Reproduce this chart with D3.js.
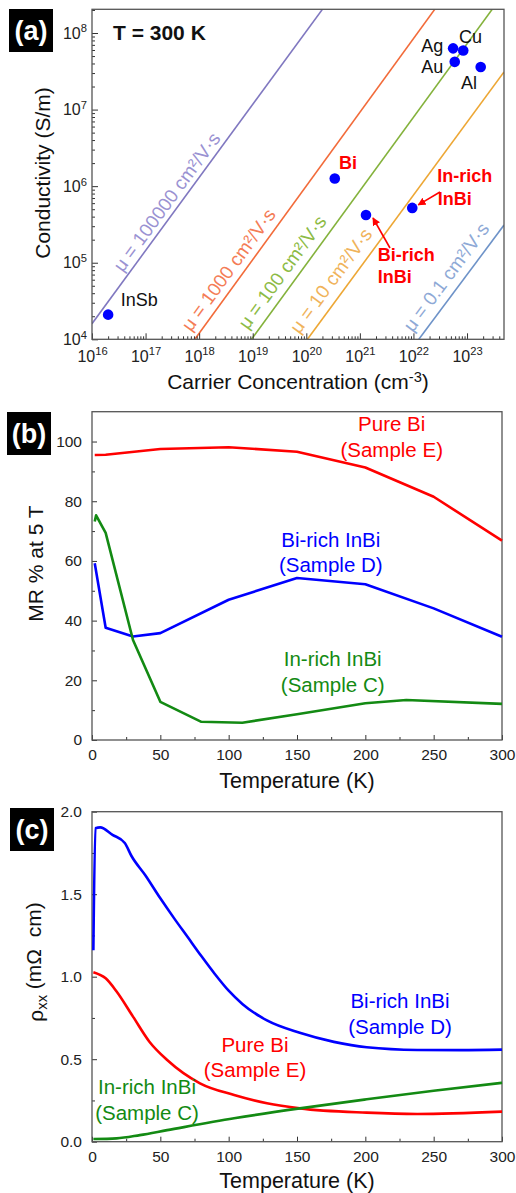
<!DOCTYPE html>
<html>
<head>
<meta charset="utf-8">
<script src="https://cdn.jsdelivr.net/npm/d3@7"></script>
<style>
  body { margin: 0; background: #fff; }
  svg { font-family: "Liberation Sans", Arial, sans-serif; }
</style>
</head>
<body>
<svg id="fig" width="516" height="1193"></svg>
<script>
// ---- panel (a): conductivity vs carrier concentration ----
const materials = ["InSb", "Bi", "Bi-rich InBi", "In-rich InBi", "Ag", "Cu", "Au", "Al"];
const carrierConc = [2e16, 3.4e20, 1.3e21, 9.5e21, 5.5e22, 8.5e22, 5.9e22, 1.8e23];
const conductivity = [2.1e4, 1.26e6, 4.2e5, 5.2e5, 6.3e7, 5.9e7, 4.2e7, 3.6e7];

// constant-mobility lines, end points
const mobilityValues = ["100000", "1000", "100", "10", "0.1"];
const mobilityN = [[1e16, 2e20], [8.3e17, 2.5e22], [9.5e18, 2.95e23], [1.05e20, 4.9e23], [1.26e22, 4.9e23]];
const mobilitySigma = [[1.6e4, 2.04e8], [1e4, 2.04e8], [1e4, 2.04e8], [1e4, 3.1e7], [1e4, 3.1e5]];
const mobilityLabelAt = [[3.74e16, 7.35e4], [7.05e17, 1.23e4], [8.05e18, 1.3e4], [7.4e19, 1.15e4], [9.66e21, 1.21e4]];

// ---- panel (b): MR % at 5 T vs temperature ----
const tempMR_E = [2, 10, 50, 100, 150, 200, 250, 300];
const mr_E = [95.5, 95.6, 97.5, 98.1, 96.6, 91.3, 81.5, 66.8];
const tempMR_D = [2, 10, 30, 50, 100, 150, 200, 250, 300];
const mr_D = [59.2, 37.6, 34.7, 35.8, 47, 54.3, 52.2, 44.1, 34.6];
const tempMR_C = [2, 3, 10, 30, 50, 80, 110, 150, 200, 230, 300];
const mr_C = [73.2, 75.3, 69.4, 33.5, 12.8, 6.1, 5.8, 8.6, 12.3, 13.4, 12.1];

// ---- panel (c): rho_xx vs temperature ----
const tempRho_D = [1, 2.5, 6, 15, 24, 29, 39, 50, 60, 70, 80, 90, 100, 110, 128, 152, 177, 201, 238, 270, 300];
const rho_D = [1.16, 1.90, 1.905, 1.86, 1.81, 1.73, 1.615, 1.475, 1.355, 1.24, 1.125, 1.015, 0.915, 0.835, 0.735, 0.66, 0.605, 0.572, 0.556, 0.555, 0.558];
const tempRho_E = [1, 10, 18, 30, 42, 55, 79, 104, 128, 152, 201, 238, 300];
const rho_E = [1.027, 0.99, 0.91, 0.758, 0.606, 0.495, 0.354, 0.283, 0.233, 0.202, 0.176, 0.168, 0.182];
const tempRho_C = [1, 18, 35, 55, 104, 152, 201, 250, 300];
const rho_C = [0.016, 0.02, 0.04, 0.07, 0.142, 0.202, 0.257, 0.309, 0.357];

const RED = "#ff0000", BLUE = "#0000ff", GREEN = "#138a13";
const mobilityLineColors = ["#8078c0", "#f26b3a", "#84b23c", "#eda735", "#6e93c8"];
const mobilityTextColors = ["#9a92d2", "#f47c56", "#8dbb45", "#f0b35a", "#8ea9d6"];

const svg = d3.select("#fig");

svg.append("defs").append("marker")
  .attr("id", "arrow")
  .attr("viewBox", "0 0 10 10")
  .attr("refX", 9).attr("refY", 5)
  .attr("markerWidth", 5).attr("markerHeight", 5)
  .attr("markerUnits", "strokeWidth")
  .attr("orient", "auto")
  .append("path").attr("d", "M0,0L10,5L0,10z").attr("fill", RED);

function panelTag(x, y, label) {
  svg.append("rect").attr("x", x).attr("y", y).attr("width", 44).attr("height", 43).attr("fill", "#000");
  svg.append("text").attr("x", x + 22).attr("y", y + 31)
    .attr("text-anchor", "middle").attr("fill", "#fff")
    .attr("font-weight", "bold").attr("font-size", 27).text(label);
}

function styleAxis(g, size) {
  g.attr("font-family", null).attr("font-size", size).attr("color", "#333");
  g.select(".domain").remove();
  g.selectAll("text").attr("fill", "#222");
}

function frame(x, y) {
  svg.append("rect")
    .attr("x", x.range()[0]).attr("y", y.range()[1])
    .attr("width", x.range()[1] - x.range()[0])
    .attr("height", y.range()[0] - y.range()[1])
    .attr("fill", "none").attr("stroke", "#555").attr("stroke-width", 1.3);
}

function powLabels(sel) {
  sel.each(function(d) {
    const t = d3.select(this);
    const e = Math.round(Math.log10(d));
    t.text(null);
    t.append("tspan").text("10");
    t.append("tspan").attr("dy", "-0.55em").attr("font-size", "0.7em").text(e);
  });
}

// ================= panel (a) =================
const xA = d3.scaleLog().domain([1e16, 4.9e23]).range([92, 504]);
const yA = d3.scaleLog().domain([1e4, 2.04e8]).range([339.3, 9.3]);

const xDecades = d3.range(16, 24).map(e => Math.pow(10, e));
const yDecades = d3.range(4, 9).map(e => Math.pow(10, e));
const xMinor = [], yMinor = [];
d3.range(16, 24).forEach(e => d3.range(2, 10).forEach(m => { const v = m * Math.pow(10, e); if (v <= 4.9e23) xMinor.push(v); }));
d3.range(4, 9).forEach(e => d3.range(2, 10).forEach(m => { const v = m * Math.pow(10, e); if (v <= 2.04e8) yMinor.push(v); }));

svg.append("clipPath").attr("id", "clipA").append("rect")
  .attr("x", 92).attr("y", 9.3).attr("width", 412).attr("height", 330);

const lineA = d3.line().x(d => xA(d[0])).y(d => yA(d[1]));
mobilityValues.forEach((mu, i) => {
  const pts = [[mobilityN[i][0], mobilitySigma[i][0]], [mobilityN[i][1], mobilitySigma[i][1]]];
  svg.append("path").attr("d", lineA(pts)).attr("clip-path", "url(#clipA)")
    .attr("fill", "none").attr("stroke", mobilityLineColors[i]).attr("stroke-width", 1.6);
  const ang = Math.atan2(yA(pts[1][1]) - yA(pts[0][1]), xA(pts[1][0]) - xA(pts[0][0])) * 180 / Math.PI;
  const lx = xA(mobilityLabelAt[i][0]), ly = yA(mobilityLabelAt[i][1]);
  svg.append("text")
    .attr("transform", `translate(${lx},${ly}) rotate(${ang})`)
    .attr("fill", mobilityTextColors[i]).attr("font-size", 19)
    .text(`μ = ${mu} cm²/V·s`);
});

svg.append("g").attr("transform", "translate(0,339.3)")
  .call(d3.axisBottom(xA).tickValues(xMinor).tickSize(-3).tickFormat(""))
  .call(g => styleAxis(g, 16));
svg.append("g").attr("transform", "translate(0,339.3)")
  .call(d3.axisBottom(xA).tickValues(xDecades).tickSize(-6).tickPadding(11))
  .call(g => styleAxis(g, 16))
  .call(g => g.selectAll(".tick text").call(powLabels));
svg.append("g").attr("transform", "translate(92,0)")
  .call(d3.axisLeft(yA).tickValues(yMinor).tickSize(-3).tickFormat(""))
  .call(g => styleAxis(g, 16));
svg.append("g").attr("transform", "translate(92,0)")
  .call(d3.axisLeft(yA).tickValues(yDecades).tickSize(-6).tickPadding(5))
  .call(g => styleAxis(g, 16))
  .call(g => g.selectAll(".tick text").call(powLabels));
frame(xA, yA);

svg.selectAll("circle.mat").data(materials).join("circle")
  .attr("class", "mat")
  .attr("cx", (d, i) => xA(carrierConc[i]))
  .attr("cy", (d, i) => yA(conductivity[i]))
  .attr("r", 5.3).attr("fill", BLUE);

svg.append("text").attr("x", 113).attr("y", 39.5)
  .attr("font-weight", "bold").attr("font-size", 21).attr("fill", "#111").text("T = 300 K");

const blackLabels = [
  ["InSb", 120.7, 306, "start"], ["Ag", 443.3, 52, "end"], ["Cu", 459, 43.3, "start"],
  ["Au", 443.3, 73.3, "end"], ["Al", 461, 89.3, "start"]
];
blackLabels.forEach(([t, x, y, a]) => svg.append("text").attr("x", x).attr("y", y)
  .attr("text-anchor", a).attr("font-size", 18).attr("fill", "#111").text(t));

const redLabels = [
  ["Bi", 339, 169], ["In-rich", 437.3, 181.7], ["InBi", 437.7, 205],
  ["Bi-rich", 377.7, 260.7], ["InBi", 377.7, 282.7]
];
redLabels.forEach(([t, x, y]) => svg.append("text").attr("x", x).attr("y", y)
  .attr("font-size", 18).attr("font-weight", "bold").attr("fill", RED).text(t));

// arrows from labels to the InBi points
[[390, 248, xA(carrierConc[2]) + 7, yA(conductivity[2]) + 3],
 [440, 192, xA(carrierConc[3]) + 6, yA(conductivity[3]) - 3]].forEach(([x1, y1, x2, y2]) =>
  svg.append("line").attr("x1", x1).attr("y1", y1).attr("x2", x2).attr("y2", y2)
    .attr("stroke", RED).attr("stroke-width", 1.6).attr("marker-end", "url(#arrow)"));

svg.append("text")
  .attr("transform", "translate(50,173) rotate(-90)")
  .attr("text-anchor", "middle").attr("font-size", 21).attr("fill", "#111")
  .text("Conductivity (S/m)");
const xTitleA = svg.append("text").attr("x", 298).attr("y", 389)
  .attr("text-anchor", "middle").attr("font-size", 21).attr("fill", "#111");
xTitleA.append("tspan").text("Carrier Concentration (cm");
xTitleA.append("tspan").attr("dy", "-0.5em").attr("font-size", "0.7em").text("-3");
xTitleA.append("tspan").attr("dy", "0.35em").text(")");

panelTag(9, 9, "(a)");

// ================= linear panels =================
function linearPanel(x, y, yMajor, yMinorTicks, yFmt) {
  svg.append("g").attr("transform", `translate(0,${y.range()[0]})`)
    .call(d3.axisBottom(x).tickValues(d3.range(25, 300, 50)).tickSize(-3).tickFormat(""))
    .call(g => styleAxis(g, 15.5));
  svg.append("g").attr("transform", `translate(0,${y.range()[0]})`)
    .call(d3.axisBottom(x).tickValues(d3.range(0, 301, 50)).tickSize(-5).tickPadding(9))
    .call(g => styleAxis(g, 15.5));
  svg.append("g").attr("transform", `translate(${x.range()[0]},0)`)
    .call(d3.axisLeft(y).tickValues(yMinorTicks).tickSize(-3).tickFormat(""))
    .call(g => styleAxis(g, 15.5));
  svg.append("g").attr("transform", `translate(${x.range()[0]},0)`)
    .call(d3.axisLeft(y).tickValues(yMajor).tickSize(-5).tickPadding(10).tickFormat(yFmt))
    .call(g => styleAxis(g, 15.5));
  frame(x, y);
}

function curve(x, y, xs, ys, color, c) {
  const gen = d3.line().x(d => x(d[0])).y(d => y(d[1])).curve(c || d3.curveLinear);
  svg.append("path").attr("d", gen(xs.map((v, i) => [v, ys[i]])))
    .attr("fill", "none").attr("stroke", color).attr("stroke-width", 2.6)
    .attr("stroke-linejoin", "round");
}

function label2(x, y1, y2, lines, color) {
  svg.append("text").attr("x", x).attr("y", y1).attr("text-anchor", "middle")
    .attr("font-size", 20.5).attr("fill", color).text(lines[0]);
  svg.append("text").attr("x", x).attr("y", y2).attr("text-anchor", "middle")
    .attr("font-size", 20.5).attr("fill", color).text(lines[1]);
}

// ---- (b) ----
const xB = d3.scaleLinear().domain([0, 300]).range([92, 502]);
const yB = d3.scaleLinear().domain([0, 110]).range([740, 411.7]);
linearPanel(xB, yB, d3.range(0, 101, 20), d3.range(10, 110, 20), d3.format("d"));
curve(xB, yB, tempMR_E, mr_E, RED);
curve(xB, yB, tempMR_D, mr_D, BLUE);
curve(xB, yB, tempMR_C, mr_C, GREEN);
label2(391.7, 431, 457, ["Pure Bi", "(Sample E)"], RED);
label2(330.8, 546.7, 572, ["Bi-rich InBi", "(Sample D)"], BLUE);
label2(332.7, 666, 692, ["In-rich InBi", "(Sample C)"], GREEN);
svg.append("text").attr("transform", "translate(43,563.5) rotate(-90)")
  .attr("text-anchor", "middle").attr("font-size", 21).attr("fill", "#111").text("MR % at 5 T");
svg.append("text").attr("x", 297).attr("y", 788).attr("text-anchor", "middle")
  .attr("font-size", 21.5).attr("fill", "#111").text("Temperature (K)");
panelTag(7, 412, "(b)");

// ---- (c) ----
const xC = d3.scaleLinear().domain([0, 300]).range([92, 502]);
const yC = d3.scaleLinear().domain([0, 2]).range([1141.7, 811.7]);
linearPanel(xC, yC, d3.range(0, 2.01, 0.5), d3.range(0.25, 2, 0.5), d3.format(".1f"));
curve(xC, yC, tempRho_D, rho_D, BLUE, d3.curveMonotoneX);
curve(xC, yC, tempRho_E, rho_E, RED, d3.curveMonotoneX);
curve(xC, yC, tempRho_C, rho_C, GREEN, d3.curveMonotoneX);
label2(400, 1008.3, 1034, ["Bi-rich InBi", "(Sample D)"], BLUE);
label2(255, 1051.7, 1077, ["Pure Bi", "(Sample E)"], RED);
label2(147, 1094, 1120, ["In-rich InBi", "(Sample C)"], GREEN);
const yTitleC = svg.append("text").attr("transform", "translate(43,962) rotate(-90)")
  .attr("text-anchor", "middle").attr("font-size", 21).attr("fill", "#111");
yTitleC.append("tspan").text("ρ");
yTitleC.append("tspan").attr("dy", "0.3em").attr("font-size", "0.7em").text("xx");
yTitleC.append("tspan").attr("dy", "-0.3em").text(" (mΩ\u00a0 cm)");
svg.append("text").attr("x", 297).attr("y", 1187.7).attr("text-anchor", "middle")
  .attr("font-size", 21.5).attr("fill", "#111").text("Temperature (K)");
panelTag(10, 808, "(c)");
</script>
</body>
</html>
